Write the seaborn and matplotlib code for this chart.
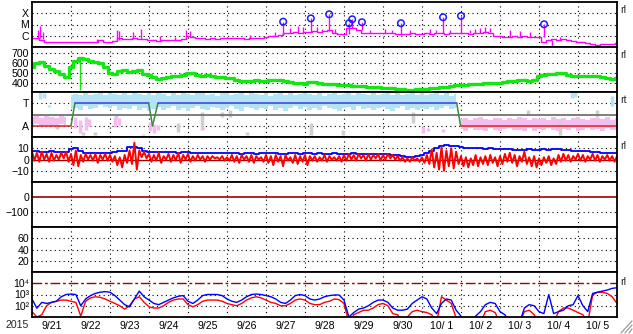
import numpy as np
import matplotlib
matplotlib.use("Agg")
import matplotlib.pyplot as plt
from matplotlib.lines import Line2D
from matplotlib.ticker import NullLocator
import seaborn as sns

# ------------------------------------------------------------------ data
year_label = "2015"
day_labels = ["9/21", "9/22", "9/23", "9/24", "9/25", "9/26", "9/27", "9/28",
              "9/29", "9/30", "10/ 1", "10/ 2", "10/ 3", "10/ 4", "10/ 5"]
sample_step = 0.125  # days (3-hour samples, day 0 = 9/21 00:00)

# X-ray flux background, in units of 1e-6 W/m2 (C level = 1)
xray_base = [0.6, 0.6, 0.4, 0.3, 0.3, 0.3, 0.3, 0.3,
             0.3, 0.3, 0.3, 0.3, 0.3, 0.3, 0.45, 0.3,
             0.3, 0.35, 0.6, 0.55, 0.55, 0.6, 0.5, 0.5,
             0.4, 0.4, 0.35, 0.4, 0.45, 0.4, 0.4, 0.5,
             0.9, 0.8, 0.6, 0.6, 0.55, 0.6, 0.55, 0.6,
             0.6, 0.6, 0.65, 0.6, 0.55, 0.6, 0.6, 0.65,
             0.8, 0.9, 1.0, 1.1, 1.6, 1.8, 2.0, 1.6,
             2.2, 2.3, 2.5, 2.0, 2.5, 3.0, 1.6, 1.5,
             1.3, 5.0, 5.0, 3.0, 1.8, 1.8, 1.6, 1.7,
             1.8, 1.6, 1.7, 1.5, 1.4, 1.5, 1.6, 1.5,
             1.5, 1.6, 1.5, 1.8, 1.6, 1.5, 1.6, 1.8,
             1.6, 1.8, 1.5, 1.6, 1.7, 2.0, 1.6, 1.0,
             0.9, 0.8, 0.85, 0.9, 0.8, 0.9, 0.85, 0.8,
             0.8, 0.3, 0.45, 0.5, 0.45, 0.55, 0.4, 0.35,
             0.3, 0.28, 0.22, 0.17, 0.16, 0.17, 0.18, 0.2, 0.25]
# short X-ray spikes: time (days), base, peak (1e-6 W/m2)
spike_t = [0.154, 0.205, 0.28, 1.67, 2.18, 2.23, 2.59, 2.79, 3.28, 3.67, 3.95, 4.05,
           5.59, 6.23, 6.44, 6.62, 6.82, 6.95, 7.15, 7.31, 7.44, 7.62, 7.77, 8.13,
           8.21, 8.46, 8.67, 9.05, 9.23, 9.46, 9.69, 10.21, 10.36, 10.54, 10.72,
           11.0, 11.23, 11.36, 11.49, 11.62, 11.74, 12.26, 12.51, 12.77, 13.13,
           13.33, 13.54]
spike_base = [0.6, 0.6, 0.5, 0.3, 0.35, 0.4, 0.55, 0.55, 0.35, 0.4, 0.5, 0.9,
              0.55, 0.9, 1.1, 1.6, 2.0, 1.6, 2.2, 2.5, 2.0, 2.5, 1.6, 1.5,
              5.0, 3.0, 1.8, 1.8, 1.6, 1.5, 1.5, 1.6, 1.6, 1.6, 1.6,
              1.6, 1.6, 1.8, 1.6, 1.7, 2.0, 0.85, 0.85, 0.85, 0.8,
              0.4, 0.45]
spike_peak = [3.0, 8.0, 2.0, 0.5, 3.2, 2.5, 2.0, 3.7, 0.9, 0.8, 3.0, 2.5,
              1.2, 2.0, 17.8, 5.0, 7.0, 6.0, 35.0, 6.0, 4.0, 81.0, 4.0, 13.0,
              29.0, 16.0, 3.5, 4.0, 3.0, 13.0, 3.5, 4.0, 3.0, 44.0, 3.0,
              58.0, 3.0, 4.0, 5.0, 6.0, 5.0, 3.0, 2.5, 2.0, 10.5,
              0.12, 0.8]
# flare markers (circle centres)
flare_t = [6.44, 7.15, 7.62, 8.13, 8.21, 8.46, 9.46, 10.54, 11.0, 13.13]
flare_peak = [17.8, 35.0, 81.0, 13.0, 29.0, 16.0, 13.0, 44.0, 58.0, 10.5]

# solar wind speed (km/s)
wind_speed = [560, 600, 610, 570, 540, 520, 490, 460,
              560, 620, 650, 640, 620, 610, 600, 560,
              500, 490, 520, 530, 510, 520, 530, 490,
              480, 460, 440, 450, 460, 470, 470, 480,
              500, 500, 480, 470, 480, 470, 460, 460,
              450, 450, 430, 420, 420, 420, 425, 420,
              420, 430, 430, 430, 420, 410, 400, 400,
              390, 410, 405, 395, 390, 385, 385, 380,
              380, 375, 370, 370, 365, 360, 360, 355,
              350, 350, 345, 340, 335, 330, 330, 335,
              335, 340, 345, 350, 355, 360, 365, 375,
              380, 380, 385, 385, 390, 395, 400, 400,
              400, 405, 415, 420, 425, 430, 420, 425,
              470, 480, 490, 485, 500, 495, 480, 470,
              465, 470, 470, 470, 465, 460, 450, 440, 445]
speed_dip_t = [1.23]
speed_dip_top = [640]
speed_dip_low = [330]

# IMF longitude cloud (deg): lower / upper edge per 3-hour sample
sector_lo = ([140, 150, 135, 145, 130, 140, 150, 140] +
             [270, 276, 265, 290, 270, 280, 300, 285,
              275, 290, 260, 280, 270, 295, 265, 280] +
             [250, 270, 285, 260, 275, 290, 265, 280, 255, 275, 295, 270, 260, 285, 275, 265,
              280, 290, 270, 255, 285, 275, 260, 280, 270, 295, 265, 280, 255, 275, 290, 270,
              285, 265, 275, 260, 290, 280, 270, 255, 275, 285, 265, 290, 270, 280, 260, 275,
              285, 270, 255, 280, 290, 265, 275, 260, 280, 270, 285, 265, 275, 290, 270, 280] +
             [110, 95, 120, 100, 105, 90, 115, 100, 95, 110, 120, 100, 105, 95, 115, 90,
              110, 100, 120, 105, 95, 110, 100, 115, 90, 105, 120, 100, 110, 95, 115, 105, 100])
sector_hi = ([205, 210, 200, 215, 205, 200, 210, 205] +
             [380, 390, 385, 395, 380, 390, 395, 385,
              400, 390, 380, 395, 385, 400, 390, 385] +
             [395, 385, 400, 390, 375, 395, 385, 400, 390, 380, 395, 400, 385, 390, 375, 395,
              400, 385, 390, 395, 380, 400, 390, 385, 395, 375, 390, 400, 385, 395, 380, 390,
              400, 390, 385, 395, 375, 390, 400, 385, 390, 395, 380, 400, 390, 385, 395, 380,
              390, 400, 385, 395, 380, 390, 400, 385, 395, 380, 390, 400, 385, 395, 375, 390] +
             [190, 200, 185, 195, 205, 190, 180, 200, 195, 185, 200, 190, 205, 195, 185, 200,
              190, 195, 185, 205, 190, 200, 185, 195, 205, 190, 185, 200, 195, 190, 205, 185, 200])
toward_start, toward_end = 1.0, 10.93
gray_t = [0.64, 1.31, 1.62, 2.15, 2.85, 3.74, 4.36, 4.87, 5.08, 5.51, 7.15, 7.97, 9.77, 12.72, 13.54, 14.49]
gray_lo = [109, 61, 61, 189, 61, 85, 101, 205, 205, 61, 61, 61, 157, 221, 61, 205]
gray_hi = [141, 85, 85, 221, 70, 157, 245, 245, 261, 85, 157, 101, 245, 261, 165, 261]
pink_t = [1.10, 1.23, 1.38, 1.46, 2.13, 2.23, 3.03, 3.13, 3.23, 4.38, 10.03, 10.15, 10.54]
pink_lo = [120, 77, 100, 130, 125, 140, 90, 77, 100, 110, 77, 90, 85]
pink_hi = [205, 180, 205, 190, 205, 200, 165, 150, 140, 125, 125, 120, 110]
blue_t = [0.21, 0.31, 0.44, 13.85, 13.92, 14.87]
blue_lo = [350, 360, 285, 355, 365, 290]
blue_hi = [405, 400, 301, 405, 405, 370]
# sector polarity line (vertices)
sector_line_t = [0.0, 1.0, 1.1, 2.99, 3.09, 3.23, 10.89, 10.99, 15.0]
sector_line_v = [135, 135, 315, 315, 135, 315, 315, 135, 135]

# IMF Bt and Bz (nT)
imf_bt = [7.5, 7.5, 7, 7, 7.5, 7, 7, 7,
          9, 10, 8, 6, 6, 6, 6, 6,
          6, 7, 8, 8, 11, 11, 10, 8,
          7, 7, 7, 7, 6.5, 7, 6, 6.5,
          7, 6, 5.5, 6, 5.5, 5.5, 5.5, 5.5,
          5.5, 5.5, 5.5, 5, 5.5, 5.5, 5, 5.5,
          5.5, 5.5, 5.5, 5, 5, 5.5, 5.5, 5,
          5.5, 5.5, 5, 5.5, 5, 5, 5.5, 5,
          5, 5, 5.5, 5, 5, 5, 5, 4.5,
          4.5, 4.5, 4, 4, 3, 2.5, 2.5, 3,
          4, 6, 8, 10, 12, 13, 12, 12,
          11, 10, 10, 10.5, 10, 9.5, 10, 9.5,
          9, 9.5, 9, 8.5, 8.5, 8.5, 9, 8.5,
          8.5, 9, 8.5, 9, 9, 8.5, 8.5, 8,
          8, 7.5, 7.5, 7, 6.5, 6, 6, 5.5, 5.5]
bz_hi = [7, 6, 7, 5, 6, 4, 6, 7,
         5, 8, 4, 5, 4, 5, 4, 5,
         4, 3, 2, 4, 8, 15, 8, 7,
         5, 4, 6, 3, 5, 4, 6, 4,
         5, 3, 4, 3, 3, 3, 2, 3,
         2, 4, 3, 4, 3, 4, 3, 2,
         4, 3, 4, 3, 4, 2, 4, 3,
         4, 3, 3, 2, 4, 3, 2, 3,
         4, 5, 4, 5, 4, 5, 4, 5,
         4, 5, 4, 3, 2, 1, 2, 1,
         2, 4, 9, 6, 11, 8, 10, 7,
         3, 2, 1, 4, 2, 3, 4, 2,
         3, 5, 6, 4, 3, 7, 2, 3,
         1, 2, 3, 1, 4, 5, 4, 3,
         5, 4, 3, 5, 4, 3, 4, 3, 3]
bz_lo = [-1, -2, 0, -2, -1, 0, 1, -2,
         -5, -6, -2, 0, -1, -3, 0, -1,
         -2, -5, -7, -3, -4, -9, 2, 1,
         -2, -1, -3, 0, -2, -1, -3, 0,
         -2, -1, 0, -2, 0, 1, 0, -1,
         -1, -2, -3, 0, -2, -3, 0, -2,
         -3, -5, -2, -6, -1, -3, -4, -2,
         -5, -1, -2, -1, -2, 0, -1, -2,
         -1, 0, -1, 1, -1, 0, 1, -1,
         0, 1, 0, -1, -2, -2, -1, -2,
         -3, -4, -7, -9, -10, -6, -8, -4,
         -6, -7, -5, -6, -4, -5, -3, -6,
         -4, -2, -3, -6, -2, -4, -6, -7,
         -5, -3, -5, -4, -2, -1, -2, 0,
         -1, -2, 0, -1, -2, 0, -1, -2, -1]

# electron flux (two channels)
elec_blue = [400, 60, 200, 160, 200, 250, 630, 1000,
             1100, 1000, 100, 400, 800, 1250, 1600, 1800,
             1600, 800, 320, 125, 80, 400, 2000, 630,
             320, 160, 125, 200, 320, 500, 700, 800,
             250, 160, 320, 800, 1000, 1000, 1000, 800,
             400, 250, 200, 320, 630, 1000, 1100, 1000,
             800, 630, 400, 200, 160, 320, 800, 1000,
             800, 400, 320, 400, 630, 800, 900, 900,
             320, 10, 25, 50, 63, 100, 200, 320,
             320, 200, 63, 40, 40, 50, 160, 320,
             630, 400, 63, 20, 160, 400, 320, 40,
             12, 3, 3, 12, 30, 125, 200, 160,
             30, 16, 3, 3, 3, 63, 125, 100,
             30, 20, 1000, 20, 30, 40, 100, 125,
             800, 100, 30, 1250, 1600, 2000, 2500, 3500, 4000]
elec_red = [30, 10, 16, 100, 200, 250, 320, 320,
            250, 200, 12, 250, 500, 630, 560, 400,
            250, 160, 100, 50, 100, 400, 630, 200,
            80, 63, 63, 100, 200, 320, 400, 400,
            125, 80, 125, 250, 320, 320, 320, 250,
            160, 125, 100, 160, 320, 500, 630, 500,
            320, 200, 160, 100, 100, 160, 320, 400,
            320, 160, 125, 125, 200, 250, 400, 350,
            160, 3, 16, 25, 40, 40, 63, 125,
            160, 100, 20, 16, 3, 10, 30, 40,
            30, 25, 16, 3, 630, 320, 160, 8,
            3, 3, 3, 3, 3, 30, 40, 25,
            3, 3, 3, 3, 3, 30, 40, 16,
            3, 3, 3, 3, 30, 63, 63, 40,
            25, 16, 3, 900, 1600, 1600, 1250, 630, 160]

# ------------------------------------------------------------------ style
sns.set_theme(style="white")
plt.rcParams['font.family'] = ['Liberation Sans', 'DejaVu Sans']
FS = 7.6
DOT = (0, (1, 3))

W, H = 633, 334
fig = plt.figure(figsize=(W / 100, H / 100), dpi=100)
fig.patch.set_facecolor('white')

t3 = np.arange(len(wind_speed)) * sample_step

axes = []
for k in range(7):
    top = 2 + 45 * k
    ax = fig.add_axes([32 / W, 1 - (top + 45) / H, 585 / W, 45 / H])
    ax.set_xlim(0, 15)
    ax.set_facecolor('white')
    for s in ax.spines.values():
        s.set_color('black')
        s.set_linewidth(1.3)
        s.set_zorder(10)
    for d in range(1, 15):
        ax.axvline(d, color='black', lw=0.8, ls=DOT, zorder=0.5)
    ax.set_xticks([])
    ax.tick_params(axis='y', length=0, labelsize=FS, pad=2, colors='black')
    axes.append(ax)

def hgrid(ax, levels):
    for v in levels:
        ax.axhline(v, color='black', lw=0.8, ls=DOT, zorder=0.5)

# ---- panel 1: X-ray
ax = axes[0]
ax.set_yscale('log')
ax.set_ylim(1e-7, 1e-3)
hgrid(ax, [1e-6, 1e-5, 1e-4])
xb = np.array(xray_base) * 1e-6
sns.lineplot(x=t3, y=xb, ax=ax, color='#ff00ff', lw=1.0, drawstyle='steps-mid',
             estimator=None, sort=False, legend=False)
ax.vlines(spike_t, np.array(spike_base) * 1e-6, np.array(spike_peak) * 1e-6,
          color='#ff00ff', lw=1.0)
ax.scatter(flare_t, np.array(flare_peak) * 1e-6, s=22, facecolors='none',
           edgecolors='#1a1aff', linewidths=1.1, zorder=5)
ax.set_yticks([1e-6, 1e-5, 1e-4])
ax.set_yticklabels(['C', 'M', 'X'])
ax.yaxis.set_minor_locator(NullLocator())

# ---- panel 2: solar wind speed
ax = axes[1]
ax.set_ylim(310, 760)
hgrid(ax, [400, 500, 600, 700])
sns.lineplot(x=t3, y=wind_speed, ax=ax, color='#14e614', lw=2.4, drawstyle='steps-mid',
             estimator=None, sort=False, legend=False)
ax.vlines(speed_dip_t, speed_dip_low, speed_dip_top, color='#14e614', lw=1.0)
ax.set_yticks([400, 500, 600, 700])

# ---- panel 3: IMF sector
ax = axes[2]
ax.set_ylim(45, 405)
hgrid(ax, [135, 315])
lo = np.array(sector_lo)
hi = np.array(sector_hi)
tow = (t3 >= toward_start) & (t3 <= toward_end)
ax.fill_between(t3, lo, hi, where=tow, step='mid', color='#b2e4f5', lw=0, zorder=1)
ax.fill_between(t3, lo, hi, where=~tow, step='mid', color='#f4bdee', lw=0, zorder=1)
ax.vlines(gray_t, gray_lo, gray_hi, color='#cfcfcf', lw=2.5, zorder=1)
ax.vlines(pink_t, pink_lo, pink_hi, color='#f4bdee', lw=2.5, zorder=1)
ax.vlines(blue_t, blue_lo, blue_hi, color='#b2e4f5', lw=2.5, zorder=1)
ax.axhline(225, color='#737373', lw=1.3, zorder=2)
for i in range(len(sector_line_t) - 1):
    v0, v1 = sector_line_v[i], sector_line_v[i + 1]
    if v0 == v1 == 315:
        c = '#3a3ae0'
    elif v0 == v1 == 135:
        c = '#e02020'
    else:
        c = '#3a8a3a'
    sns.lineplot(x=sector_line_t[i:i + 2], y=sector_line_v[i:i + 2], ax=ax, color=c,
                 lw=1.1, estimator=None, sort=False, legend=False, zorder=3)
ax.set_yticks([135, 315])
ax.set_yticklabels(['A', 'T'])

# ---- panel 4: IMF Bt / Bz
ax = axes[3]
ax.set_ylim(-20, 20)
hgrid(ax, [-10, 10])
ax.axhline(0, color='#a00000', lw=1.0, zorder=1)
sns.lineplot(x=t3, y=imf_bt, ax=ax, color='#0000ff', lw=1.3, drawstyle='steps-mid',
             estimator=None, sort=False, legend=False, zorder=2)
# Bz drawn as a zig-zag between the read upper and lower excursions
bz_x = np.ravel(np.column_stack([t3, t3 + sample_step / 2]))
bz_y = np.ravel(np.column_stack([bz_hi, bz_lo]))
sns.lineplot(x=bz_x, y=bz_y, ax=ax, color='#ff0000', lw=1.4, estimator=None,
             sort=False, legend=False, zorder=3)
ax.set_yticks([-10, 0, 10])

# ---- panel 5
ax = axes[4]
ax.set_ylim(-200, 100)
hgrid(ax, [-100])
ax.axhline(0, color='#a00000', lw=1.2, zorder=1)
ax.set_yticks([-100, 0])

# ---- panel 6
ax = axes[5]
ax.set_ylim(0, 80)
hgrid(ax, [20, 40, 60])
ax.set_yticks([20, 40, 60])

# ---- panel 7: electron flux
ax = axes[6]
ax.set_yscale('log')
ax.set_ylim(1e1, 1e5)
hgrid(ax, [1e2, 1e3])
ax.axhline(1e4, color='#a00000', lw=1.0, dashes=(7, 2, 2, 2), zorder=1)
sns.lineplot(x=t3, y=elec_red, ax=ax, color='#ff0000', lw=1.0, estimator=None,
             sort=False, legend=False, zorder=2)
sns.lineplot(x=t3, y=elec_blue, ax=ax, color='#0000ff', lw=1.0, estimator=None,
             sort=False, legend=False, zorder=3)
ax.set_yticks([1e2, 1e3, 1e4])
ax.set_yticklabels(['10\u00b2', '10\u00b3', '10\u2074'])
ax.yaxis.set_minor_locator(NullLocator())
ax.set_xticks(np.arange(15) + 0.5)
ax.set_xticklabels(day_labels)
ax.tick_params(axis='x', length=0, labelsize=FS, pad=3, colors='black')

for ax in axes:
    ax.set_xlim(0, 15)
    ax.set_xlabel('')
    ax.set_ylabel('')

fig.text(17 / W, 1 - 325 / H, year_label, fontsize=FS, ha='center', va='center')
for ypx, lab in [(10, 'rl'), (55, 'rl'), (100, 'rt'), (146, 'rl'), (282, 'rl')]:
    fig.text(620 / W, 1 - ypx / H, lab, fontsize=FS, ha='left', va='center')

# window resize grip
for off in (0, 4, 8):
    fig.add_artist(Line2D([(633 - 12 + off) / W, 632 / W],
                          [1 - 333 / H, 1 - (333 - 12 + off) / H],
                          transform=fig.transFigure, color='#9a9a9a', lw=0.9))

fig.savefig('out.png', dpi=100, facecolor='white')
